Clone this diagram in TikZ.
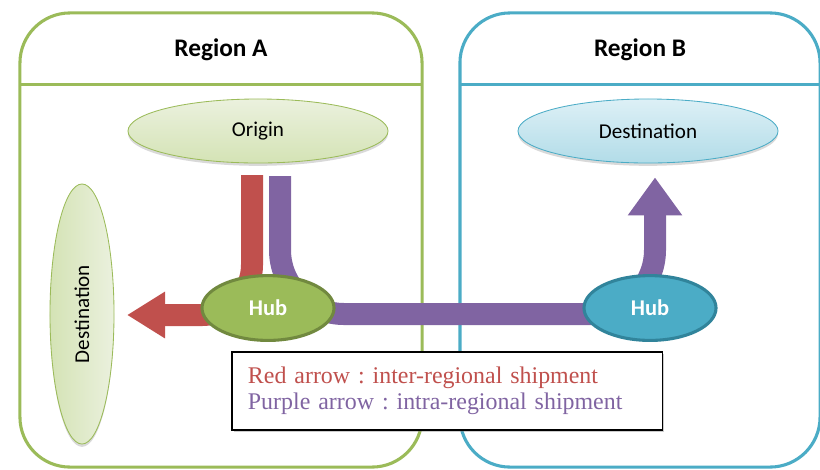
\documentclass[tikz,border=0pt]{standalone}
\usepackage{fontspec}
\setmainfont{Carlito}
\newfontfamily\legendfont{Liberation Serif}
\usepackage{tikz}
\usetikzlibrary{shapes.geometric,positioning,calc,arrows.meta,shadows}

\definecolor{regiongreen}{HTML}{9BBB59}
\definecolor{regionblue}{HTML}{4BACC6}
\definecolor{hubgreenline}{HTML}{71893F}
\definecolor{hubblueline}{HTML}{31849B}
\definecolor{shipred}{HTML}{C0504D}
\definecolor{shippurple}{HTML}{8064A2}
\definecolor{palegreen}{HTML}{EBF1DE}
\definecolor{midgreen}{HTML}{D4E3B5}
\definecolor{paleblue}{HTML}{DDF0F6}
\definecolor{midblue}{HTML}{B2DCE8}

\pgfdeclarelayer{back}
\pgfdeclarelayer{flows}
\pgfsetlayers{back,flows,main}
\frenchspacing

\begin{document}
\begin{tikzpicture}[x=0.025cm, y=-0.025cm,
  region/.style={draw, line width=2.2pt, rounded corners=1.25cm, minimum height=11.35cm, inner sep=0, outer sep=0},
  title/.style={font=\bfseries\fontsize{18}{21}\selectfont},
  site/.style={ellipse, draw, line width=0.6pt, minimum width=6.5cm, minimum height=1.6cm, inner sep=0,
    font=\fontsize{15}{18}\selectfont, drop shadow={shadow xshift=0pt, shadow yshift=-2pt, opacity=0.3}},
  hub/.style={ellipse, draw, line width=2.2pt, minimum width=3.3cm, minimum height=1.62cm, inner sep=0,
    text=white, font=\bfseries\fontsize{16}{19}\selectfont},
  flow/.style={line width=0.55cm},
  keybox/.style={draw, fill=white, line width=0.8pt, minimum width=10.75cm, minimum height=1.95cm,
    text width=9.95cm, align=left, inner xsep=0.4cm,
    font=\legendfont\fontsize{17}{18.5}\selectfont,
    drop shadow={shadow xshift=1.5pt, shadow yshift=-1.5pt, opacity=0.4}}
]
  \useasboundingbox (0,0) rectangle (820,469);

  % Regions
  \begin{pgfonlayer}{back}
    \node[region, draw=regiongreen, minimum width=10.05cm] (regionA) at (221,240) {};
    \node[region, draw=regionblue, minimum width=9cm] (regionB) at (640,240) {};
    \draw[regiongreen, line width=2.2pt] ($(regionA.north west)+(0,72)$) -- ($(regionA.north east)+(0,72)$);
    \draw[regionblue, line width=2.2pt] ($(regionB.north west)+(0,72)$) -- ($(regionB.north east)+(0,72)$);
  \end{pgfonlayer}
  \node[title] (titleA) at (221,50) {Region A};
  \node[title] (titleB) at (640,50) {Region B};

  % Origin and destinations
  \node[site, draw=regiongreen, top color=palegreen, bottom color=midgreen] (origin) at (258,131) {Origin};
  \node[site, draw=regionblue, top color=paleblue, bottom color=midblue] (destB) at (648,131) {Destination};
  \node[site, draw=regiongreen, left color=midgreen, right color=palegreen, rotate=90] (destA) at (82,314) {Destination};

  % Hubs
  \node[hub, draw=hubgreenline, fill=regiongreen] (hubA) at (268,308) {Hub};
  \node[hub, draw=hubblueline, fill=regionblue] (hubB) at (650,308) {Hub};

  % Flows
  \coordinate (redtop) at (252,175);
  \coordinate (purtop) at (280,176);
  \coordinate (redtip) at (127,315);
  \coordinate (purtip) at ($(destB.south)+(7,14)$);
  \begin{pgfonlayer}{flows}
    \draw[flow, shipred, rounded corners=1.25cm, -{Triangle[length=0.95cm, width=1.1cm]}] (redtop) |- (redtip);
    \draw[flow, shippurple, -{Triangle[length=0.95cm, width=1.3cm]}]
      (purtop) [rounded corners=1.6cm] |- ($(purtip |- hubB.center)+(0,6)$) [rounded corners=1cm] -- (purtip);
  \end{pgfonlayer}

  % Legend
  \node[keybox] (legend) at (447,391)
    {\textcolor{shipred}{Red arrow : inter-regional shipment}\\
     \textcolor{shippurple}{Purple arrow : intra-regional shipment}};
\end{tikzpicture}
\end{document}
